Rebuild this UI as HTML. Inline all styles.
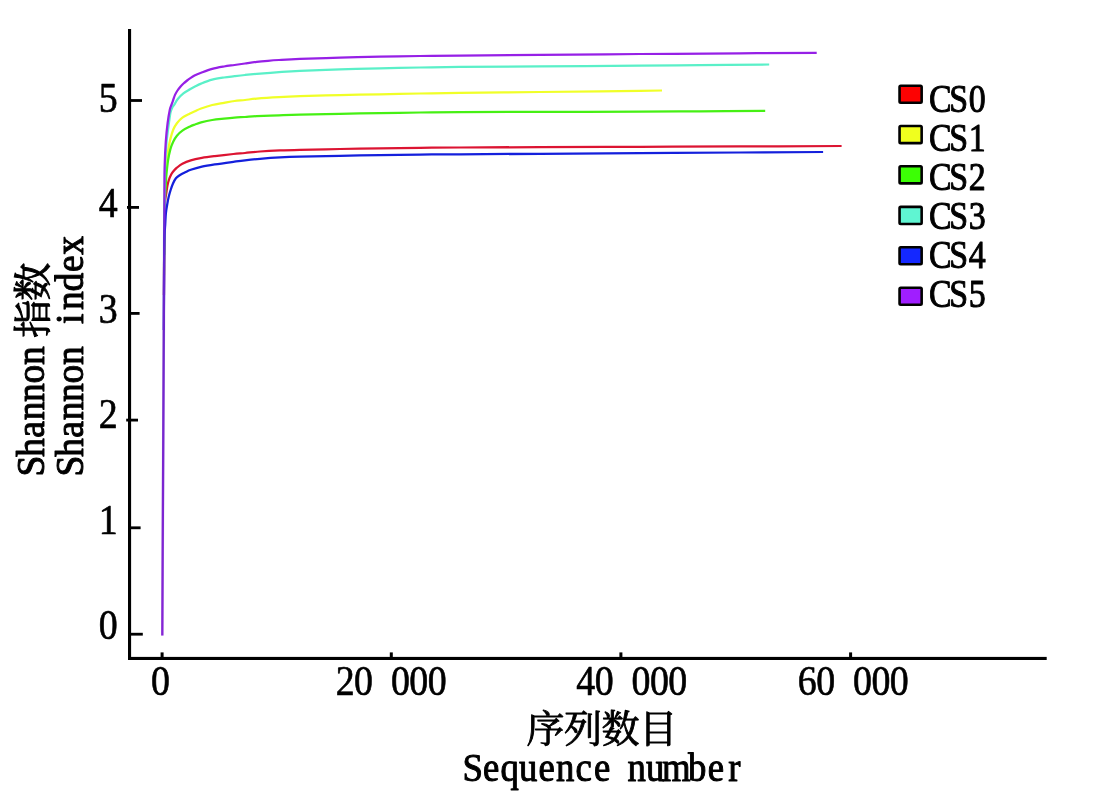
<!DOCTYPE html>
<html lang="zh"><head><meta charset="utf-8"><title>Shannon index rarefaction curves</title>
<style>html,body{margin:0;padding:0;background:#fff;}body{width:1102px;height:809px;overflow:hidden;}svg{display:block;}text{fill:#000;stroke:#000;stroke-width:1.0px;stroke-linejoin:round;}text.d{stroke-width:0.65px;}text.c{stroke-width:0.9px;}</style></head><body>
<svg width="1102" height="809" viewBox="0 0 1102 809">
<rect x="0" y="0" width="1102" height="809" fill="#fff"/>
<g fill="none" stroke-width="2.25" stroke-linecap="butt" stroke-linejoin="round">
<path stroke="#dc1432" d="M163.95 295.00 C164.01 283.33 164.21 238.33 164.30 225.00 C164.39 211.67 164.35 219.07 164.50 215.00 C164.65 210.93 164.90 204.23 165.20 200.60 C165.50 196.97 165.93 195.67 166.30 193.20 C166.67 190.73 166.97 188.03 167.40 185.80 C167.83 183.57 168.25 181.73 168.90 179.80 C169.55 177.87 170.58 175.60 171.30 174.20 C172.02 172.80 172.27 172.48 173.20 171.40 C174.13 170.32 175.37 168.98 176.90 167.70 C178.43 166.42 180.08 164.93 182.40 163.70 C184.72 162.47 187.55 161.27 190.80 160.30 C194.05 159.33 197.88 158.60 201.90 157.90 C205.92 157.20 209.65 156.75 214.90 156.10 C220.15 155.45 228.38 154.52 233.40 154.00 C238.42 153.48 240.57 153.42 245.00 153.00 C249.43 152.58 254.17 151.93 260.00 151.50 C265.83 151.07 273.33 150.68 280.00 150.40 C286.67 150.12 290.00 150.03 300.00 149.80 C310.00 149.57 326.67 149.23 340.00 149.00 C353.33 148.77 366.67 148.60 380.00 148.40 C393.33 148.20 406.67 147.95 420.00 147.80 C433.33 147.65 440.00 147.62 460.00 147.50 C480.00 147.38 510.00 147.22 540.00 147.10 C570.00 146.98 606.67 146.92 640.00 146.80 C673.33 146.68 706.40 146.53 740.00 146.40 C773.60 146.27 824.67 146.07 841.60 146.00"/>
<path stroke="#f0ff28" d="M164.05 275.00 C164.09 266.67 164.23 236.67 164.30 225.00 C164.38 213.33 164.42 210.83 164.50 205.00 C164.58 199.17 164.62 195.00 164.80 190.00 C164.98 185.00 165.27 180.00 165.60 175.00 C165.93 170.00 166.32 164.47 166.80 160.00 C167.28 155.53 167.90 151.72 168.50 148.20 C169.10 144.68 169.62 141.98 170.40 138.90 C171.18 135.82 172.12 132.32 173.20 129.70 C174.28 127.08 175.37 125.22 176.90 123.20 C178.43 121.18 180.22 119.20 182.40 117.60 C184.58 116.00 187.90 114.67 190.00 113.60 C192.10 112.53 193.15 112.05 195.00 111.20 C196.85 110.35 198.23 109.53 201.10 108.50 C203.97 107.47 208.38 105.95 212.20 105.00 C216.02 104.05 220.28 103.47 224.00 102.80 C227.72 102.13 231.00 101.47 234.50 101.00 C238.00 100.53 241.30 100.40 245.00 100.00 C248.70 99.60 251.03 99.08 256.70 98.60 C262.37 98.12 271.78 97.50 279.00 97.10 C286.22 96.70 289.83 96.53 300.00 96.20 C310.17 95.87 326.67 95.42 340.00 95.10 C353.33 94.78 366.67 94.57 380.00 94.30 C393.33 94.03 406.67 93.73 420.00 93.50 C433.33 93.27 440.00 93.15 460.00 92.90 C480.00 92.65 516.67 92.27 540.00 92.00 C563.33 91.73 583.33 91.48 600.00 91.30 C616.67 91.12 629.67 91.03 640.00 90.90 C650.33 90.77 658.33 90.57 662.00 90.50"/>
<path stroke="#46f014" d="M164.15 255.00 C164.18 250.00 164.23 233.33 164.30 225.00 C164.38 216.67 164.33 211.92 164.60 205.00 C164.87 198.08 165.60 188.50 165.90 183.50 C166.20 178.50 166.03 178.88 166.40 175.00 C166.77 171.12 167.43 164.52 168.10 160.20 C168.77 155.88 169.55 152.18 170.40 149.10 C171.25 146.02 172.12 143.93 173.20 141.70 C174.28 139.47 175.37 137.55 176.90 135.70 C178.43 133.85 180.22 132.13 182.40 130.60 C184.58 129.07 187.90 127.52 190.00 126.50 C192.10 125.48 193.15 125.18 195.00 124.50 C196.85 123.82 198.23 123.15 201.10 122.40 C203.97 121.65 208.38 120.63 212.20 120.00 C216.02 119.37 220.28 119.00 224.00 118.60 C227.72 118.20 231.00 117.87 234.50 117.60 C238.00 117.33 241.30 117.23 245.00 117.00 C248.70 116.77 251.03 116.48 256.70 116.20 C262.37 115.92 271.78 115.57 279.00 115.30 C286.22 115.03 289.83 114.85 300.00 114.60 C310.17 114.35 326.67 114.05 340.00 113.80 C353.33 113.55 366.67 113.32 380.00 113.10 C393.33 112.88 406.67 112.67 420.00 112.50 C433.33 112.33 440.00 112.20 460.00 112.10 C480.00 112.00 510.00 111.97 540.00 111.90 C570.00 111.83 613.33 111.80 640.00 111.70 C666.67 111.60 679.13 111.43 700.00 111.30 C720.87 111.17 754.33 110.97 765.20 110.90"/>
<path stroke="#5af0c8" d="M164.22 240.00 C164.28 231.67 164.45 202.50 164.60 190.00 C164.75 177.50 164.77 173.05 165.10 165.00 C165.43 156.95 165.97 148.67 166.60 141.70 C167.23 134.73 168.23 128.15 168.90 123.20 C169.57 118.25 169.98 114.70 170.60 112.00 C171.22 109.30 172.02 108.17 172.60 107.00 C173.18 105.83 173.23 106.33 174.10 105.00 C174.97 103.67 176.25 100.93 177.80 99.00 C179.35 97.07 181.37 95.02 183.40 93.40 C185.43 91.78 188.07 90.45 190.00 89.30 C191.93 88.15 193.15 87.45 195.00 86.50 C196.85 85.55 198.23 84.73 201.10 83.60 C203.97 82.47 208.38 80.72 212.20 79.70 C216.02 78.68 220.28 78.08 224.00 77.50 C227.72 76.92 231.00 76.62 234.50 76.20 C238.00 75.78 241.30 75.38 245.00 75.00 C248.70 74.62 251.03 74.38 256.70 73.90 C262.37 73.42 271.78 72.62 279.00 72.10 C286.22 71.58 289.83 71.27 300.00 70.80 C310.17 70.33 326.67 69.72 340.00 69.30 C353.33 68.88 366.67 68.60 380.00 68.30 C393.33 68.00 406.67 67.73 420.00 67.50 C433.33 67.27 440.00 67.08 460.00 66.90 C480.00 66.72 510.00 66.60 540.00 66.40 C570.00 66.20 613.33 65.92 640.00 65.70 C666.67 65.48 678.47 65.30 700.00 65.10 C721.53 64.90 757.67 64.60 769.20 64.50"/>
<path stroke="#1420dc" d="M163.80 330.00 C163.85 319.17 164.00 280.00 164.10 265.00 C164.20 250.00 164.30 245.50 164.40 240.00 C164.50 234.50 164.57 234.50 164.70 232.00 C164.83 229.50 165.00 228.13 165.20 225.00 C165.40 221.87 165.53 216.78 165.90 213.20 C166.27 209.62 166.90 206.35 167.40 203.50 C167.90 200.65 168.33 198.43 168.90 196.10 C169.47 193.77 170.12 191.60 170.80 189.50 C171.48 187.40 172.15 185.37 173.00 183.50 C173.85 181.63 174.78 179.68 175.90 178.30 C177.02 176.92 178.15 176.20 179.70 175.20 C181.25 174.20 183.35 173.20 185.20 172.30 C187.05 171.40 188.02 170.73 190.80 169.80 C193.58 168.87 197.88 167.60 201.90 166.70 C205.92 165.80 209.65 165.22 214.90 164.40 C220.15 163.58 228.38 162.48 233.40 161.80 C238.42 161.12 240.57 160.80 245.00 160.30 C249.43 159.80 254.17 159.28 260.00 158.80 C265.83 158.32 273.33 157.77 280.00 157.40 C286.67 157.03 290.00 156.87 300.00 156.60 C310.00 156.33 326.67 156.03 340.00 155.80 C353.33 155.57 366.67 155.40 380.00 155.20 C393.33 155.00 406.67 154.75 420.00 154.60 C433.33 154.45 440.00 154.43 460.00 154.30 C480.00 154.17 510.00 153.98 540.00 153.80 C570.00 153.62 606.67 153.42 640.00 153.20 C673.33 152.98 709.48 152.70 740.00 152.50 C770.52 152.30 809.25 152.08 823.10 152.00"/>
<path stroke="#9620e6" d="M162.30 635.60 C162.38 618.00 162.63 564.27 162.80 530.00 C162.97 495.73 163.12 465.00 163.30 430.00 C163.48 395.00 163.72 347.50 163.85 320.00 C163.98 292.50 164.02 280.83 164.10 265.00 C164.18 249.17 164.24 237.50 164.30 225.00 C164.36 212.50 164.38 200.00 164.45 190.00 C164.52 180.00 164.47 173.05 164.70 165.00 C164.92 156.95 165.32 148.67 165.80 141.70 C166.28 134.73 166.92 128.60 167.60 123.20 C168.28 117.80 169.27 112.33 169.90 109.30 C170.53 106.27 170.85 106.55 171.40 105.00 C171.95 103.45 172.60 101.68 173.20 100.00 C173.80 98.32 174.28 96.48 175.00 94.90 C175.72 93.32 176.57 91.90 177.50 90.50 C178.43 89.10 179.60 87.67 180.60 86.50 C181.60 85.33 182.42 84.50 183.50 83.50 C184.58 82.50 186.02 81.35 187.10 80.50 C188.18 79.65 188.77 79.22 190.00 78.40 C191.23 77.58 192.65 76.53 194.50 75.60 C196.35 74.67 198.15 73.92 201.10 72.80 C204.05 71.68 208.38 69.95 212.20 68.90 C216.02 67.85 220.28 67.15 224.00 66.50 C227.72 65.85 231.00 65.50 234.50 65.00 C238.00 64.50 241.30 64.02 245.00 63.50 C248.70 62.98 252.87 62.35 256.70 61.90 C260.53 61.45 264.28 61.12 268.00 60.80 C271.72 60.48 273.67 60.32 279.00 60.00 C284.33 59.68 289.83 59.30 300.00 58.90 C310.17 58.50 326.67 57.98 340.00 57.60 C353.33 57.22 366.67 56.87 380.00 56.60 C393.33 56.33 406.67 56.17 420.00 56.00 C433.33 55.83 440.00 55.80 460.00 55.60 C480.00 55.40 510.00 55.07 540.00 54.80 C570.00 54.53 606.67 54.25 640.00 54.00 C673.33 53.75 710.55 53.50 740.00 53.30 C769.45 53.10 803.92 52.88 816.70 52.80"/>
</g>
<defs><linearGradient id="tg" gradientUnits="userSpaceOnUse" x1="0" y1="636" x2="0" y2="195"><stop offset="0" stop-color="#6030b0" stop-opacity="0.3"/><stop offset="0.7" stop-color="#3030a0" stop-opacity="0.38"/><stop offset="0.9" stop-color="#2030c0" stop-opacity="0.45"/><stop offset="1" stop-color="#2030c0" stop-opacity="0"/></linearGradient></defs>
<path d="M162.3 635.6 L163.85 320 L164.3 225 L164.45 195" fill="none" stroke="url(#tg)" stroke-width="2.6"/>
<g fill="#000">
<rect x="128" y="29" width="3.1" height="631"/>
<rect x="128" y="656.9" width="918.7" height="3.1"/>
<rect x="128.0" y="99.10" width="14.0" height="2.8"/>
<rect x="127.0" y="206.00" width="12.0" height="2.8"/>
<rect x="128.0" y="312.00" width="11.6" height="2.8"/>
<rect x="126.2" y="418.70" width="11.8" height="2.8"/>
<rect x="128.0" y="526.40" width="12.6" height="2.8"/>
<rect x="128.0" y="632.80" width="14.8" height="2.8"/>
<rect x="160.60" y="652.4" width="3" height="6"/>
<rect x="389.80" y="652.4" width="3" height="6"/>
<rect x="619.40" y="652.4" width="3" height="6"/>
<rect x="849.10" y="652.4" width="3" height="6"/>
</g>
<text transform="translate(0 111.90) scale(0.9150 1.0000)" font-family='"Liberation Serif", "Noto Serif CJK SC", serif' font-size="41.40" text-anchor="middle" x="118.25" y="0" class="d">5</text>
<text transform="translate(0 216.80) scale(0.9150 1.0000)" font-family='"Liberation Serif", "Noto Serif CJK SC", serif' font-size="41.40" text-anchor="middle" x="118.25" y="0" class="d">4</text>
<text transform="translate(0 322.70) scale(0.9150 1.0000)" font-family='"Liberation Serif", "Noto Serif CJK SC", serif' font-size="41.40" text-anchor="middle" x="118.25" y="0" class="d">3</text>
<text transform="translate(0 428.40) scale(0.9150 1.0000)" font-family='"Liberation Serif", "Noto Serif CJK SC", serif' font-size="41.40" text-anchor="middle" x="118.25" y="0" class="d">2</text>
<text transform="translate(0 534.00) scale(0.9150 1.0000)" font-family='"Liberation Serif", "Noto Serif CJK SC", serif' font-size="41.40" text-anchor="middle" x="118.25" y="0" class="d">1</text>
<text transform="translate(0 639.30) scale(0.9150 1.0000)" font-family='"Liberation Serif", "Noto Serif CJK SC", serif' font-size="41.40" text-anchor="middle" x="118.25" y="0" class="d">0</text>
<text transform="translate(0 694.90) scale(0.9150 1.0000)" font-family='"Liberation Serif", "Noto Serif CJK SC", serif' font-size="41.40" text-anchor="middle" x="175.52" y="0" class="d">0</text>
<text transform="translate(0 694.90) scale(0.9150 1.0000)" font-family='"Liberation Serif", "Noto Serif CJK SC", serif' font-size="41.40" text-anchor="middle" x="377.27 397.38 417.49 437.60 457.70 477.81" y="0" class="d">20 000</text>
<text transform="translate(0 694.90) scale(0.9150 1.0000)" font-family='"Liberation Serif", "Noto Serif CJK SC", serif' font-size="41.40" text-anchor="middle" x="640.22 660.33 680.44 700.55 720.66 740.77" y="0" class="d">40 000</text>
<text transform="translate(0 694.90) scale(0.9150 1.0000)" font-family='"Liberation Serif", "Noto Serif CJK SC", serif' font-size="41.40" text-anchor="middle" x="882.30 902.40 922.51 942.62 962.73 982.84" y="0" class="d">60 000</text>
<rect x="899.55" y="85.70" width="22.1" height="17.1" rx="1.2" ry="1.2" fill="#fd0202" stroke="#000" stroke-width="2.6"/>
<text transform="translate(0 111.90) scale(0.8600 1.0000)" font-family='"Liberation Serif", "Noto Serif CJK SC", serif' font-size="39.40" text-anchor="middle" x="1093.31 1114.83 1136.34" y="0">CS0</text>
<rect x="899.55" y="126.00" width="22.1" height="17.1" rx="1.2" ry="1.2" fill="#f0ff1e" stroke="#000" stroke-width="2.6"/>
<text transform="translate(0 150.90) scale(0.8600 1.0000)" font-family='"Liberation Serif", "Noto Serif CJK SC", serif' font-size="39.40" text-anchor="middle" x="1093.31 1114.83 1136.34" y="0">CS1</text>
<rect x="899.55" y="166.30" width="22.1" height="17.1" rx="1.2" ry="1.2" fill="#3cff05" stroke="#000" stroke-width="2.6"/>
<text transform="translate(0 189.90) scale(0.8600 1.0000)" font-family='"Liberation Serif", "Noto Serif CJK SC", serif' font-size="39.40" text-anchor="middle" x="1093.31 1114.83 1136.34" y="0">CS2</text>
<rect x="899.55" y="206.90" width="22.1" height="17.1" rx="1.2" ry="1.2" fill="#5ff5d2" stroke="#000" stroke-width="2.6"/>
<text transform="translate(0 228.80) scale(0.8600 1.0000)" font-family='"Liberation Serif", "Noto Serif CJK SC", serif' font-size="39.40" text-anchor="middle" x="1093.31 1114.83 1136.34" y="0">CS3</text>
<rect x="899.55" y="247.20" width="22.1" height="17.1" rx="1.2" ry="1.2" fill="#1428ff" stroke="#000" stroke-width="2.6"/>
<text transform="translate(0 268.00) scale(0.8600 1.0000)" font-family='"Liberation Serif", "Noto Serif CJK SC", serif' font-size="39.40" text-anchor="middle" x="1093.31 1114.83 1136.34" y="0">CS4</text>
<rect x="899.55" y="287.70" width="22.1" height="17.1" rx="1.2" ry="1.2" fill="#a01eff" stroke="#000" stroke-width="2.6"/>
<text transform="translate(0 307.20) scale(0.8600 1.0000)" font-family='"Liberation Serif", "Noto Serif CJK SC", serif' font-size="39.40" text-anchor="middle" x="1093.31 1114.83 1136.34" y="0">CS5</text>
<text transform="translate(0 742.00) scale(1.0000 1.0000)" font-family='"Liberation Serif", "Noto Serif CJK SC", serif' font-size="38.00" text-anchor="middle" x="545.40 583.00 620.60 658.20" y="0" class="c">序列数目</text>
<text transform="translate(0 780.70) scale(0.9100 1.0000)" font-family='"Liberation Serif", "Noto Serif CJK SC", serif' font-size="40.40" text-anchor="middle" x="519.45 539.78 560.11 580.44 600.77 621.10 641.43 661.76 682.09 699.56 719.89 743.08 766.26 786.59 806.92" y="0">Sequence number</text>
<text transform="translate(44.20 475.30) rotate(-90) scale(0.9300 1.0000)" font-family='"Liberation Serif", "Noto Serif CJK SC", serif' font-size="40.40" text-anchor="middle" x="9.89 29.68 49.46 69.25 89.03 108.82 128.60" y="0">Shannon</text>
<text transform="translate(46.20 337.30) rotate(-90) scale(1.0000 1.0000)" font-family='"Liberation Serif", "Noto Serif CJK SC", serif' font-size="38.00" text-anchor="middle" x="18.50 55.50" y="0">指数</text>
<text transform="translate(82.60 475.30) rotate(-90) scale(0.9300 1.0000)" font-family='"Liberation Serif", "Noto Serif CJK SC", serif' font-size="40.40" text-anchor="middle" x="9.89 29.68 49.46 69.25 89.03 108.82 128.60 148.39 168.17 187.96 207.74 227.53 247.31" y="0">Shannon index</text>
</svg></body></html>
